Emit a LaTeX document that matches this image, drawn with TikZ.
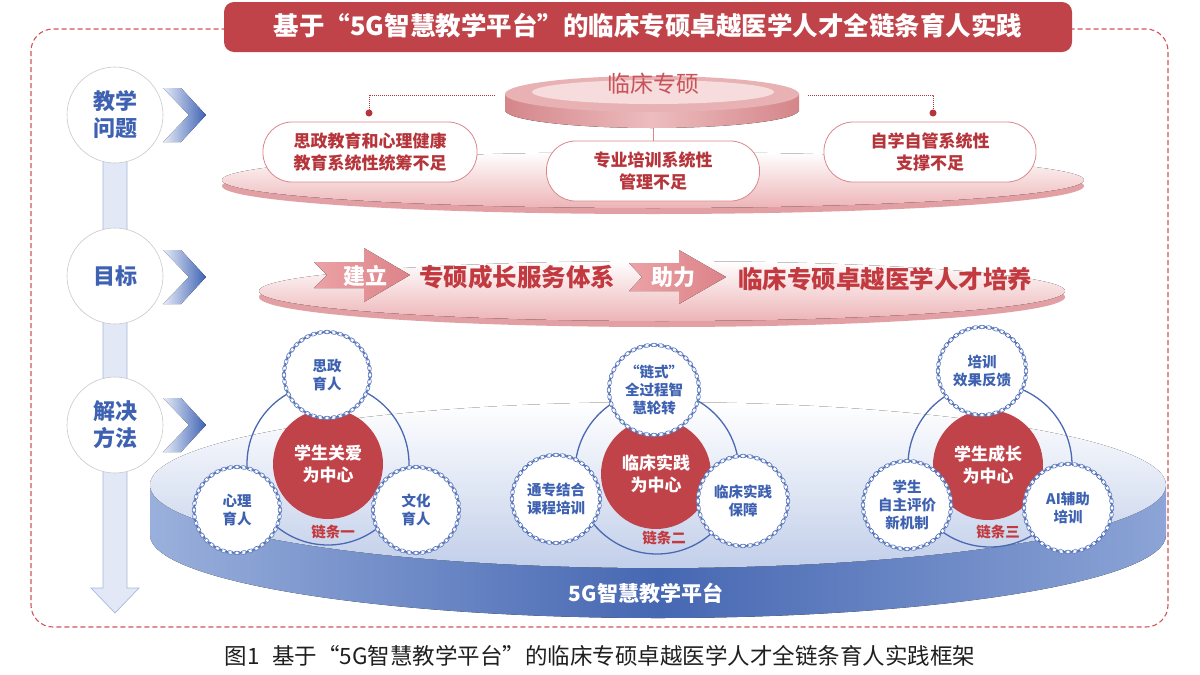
\documentclass[tikz,border=0pt]{standalone}
\usepackage{fontspec}
\setmainfont{Noto Sans CJK SC}
\usetikzlibrary{shapes.geometric,calc}
\definecolor{redmain}{HTML}{C0434A}
\definecolor{dred}{HTML}{B5353B}
\definecolor{goalred}{HTML}{C2393F}
\definecolor{pinkline}{HTML}{D9878C}
\definecolor{pinkface}{HTML}{EDB4B7}
\definecolor{pinkedge}{HTML}{E3A0A4}
\definecolor{tblue}{HTML}{3E62B1}
\definecolor{chainblue}{HTML}{5876BB}
\definecolor{ringblue}{HTML}{4A69B2}
\definecolor{barfill}{HTML}{E2E8F5}
\definecolor{barline}{HTML}{A7B8DD}
\definecolor{lgray}{HTML}{C9C9C9}
\definecolor{framered}{HTML}{D2555B}
\definecolor{arrowpinkL}{HTML}{EBA2A6}
\definecolor{arrowpinkR}{HTML}{DC8388}
\definecolor{discside}{HTML}{D4868A}
\definecolor{discsidem}{HTML}{EDBCBE}
\definecolor{discface}{HTML}{E8B1B4}
\definecolor{discinner}{HTML}{F6DCDD}
\definecolor{discword}{HTML}{C8545A}
\definecolor{bluetop}{HTML}{C2CFEA}
\definecolor{blueside}{HTML}{4667B2}
\definecolor{bluesidel}{HTML}{9AB0DC}
\definecolor{bluesider}{HTML}{8CA4D6}
\definecolor{chev}{HTML}{3F63B4}
\definecolor{chevlight}{HTML}{E6ECF8}
\newcommand\chainat[2]{%
  \foreach \a in {0,9,...,351}{\node[linkA, rotate=\a+90] at ($(#1.center)+(\a:#2pt)$) {};}%
  \foreach \a in {4.5,13.5,...,355.5}{\node[linkB, rotate=\a+90] at ($(#1.center)+(\a:#2pt)$) {};}%
}
\begin{document}
\begin{tikzpicture}[x=1pt,y=-1pt,
  every node/.style={inner sep=0pt, align=center},
  lefttag/.style={circle, minimum size=96pt, fill=white, draw=lgray, line width=0.6pt, text=tblue, font=\fontsize{22}{27}\selectfont\bfseries},
  probbox/.style={draw=pinkline, line width=0.8pt, fill=white, rounded corners=29pt, minimum height=60pt, text=dred, font=\fontsize{17}{22}\selectfont\bfseries},
  chainnode/.style={circle, minimum size=86pt, fill=white, text=tblue, font=\fontsize{14.5}{18}\selectfont\bfseries},
  hubnode/.style={circle, minimum size=110pt, fill=redmain, text=white, font=\fontsize{17}{22}\selectfont\bfseries},
  chaintext/.style={text=goalred, font=\fontsize{14.5}{18}\selectfont\bfseries},
  goaltext/.style={text=goalred, font=\fontsize{24.5}{30}\selectfont\bfseries},
  arrowtext/.style={text=white, font=\fontsize{22}{26}\selectfont\bfseries},
  dotline/.style={dred, line width=0.8pt, dash pattern=on 1pt off 1pt},
  ringline/.style={ringblue, line width=1.3pt},
  linkA/.style={ellipse, draw=chainblue, line width=0.65pt, fill=white, minimum width=6.6pt, minimum height=3.6pt, inner sep=0pt},
  linkB/.style={ellipse, fill=chainblue, minimum width=4.6pt, minimum height=1.6pt, inner sep=0pt}
]
\useasboundingbox (0,0) rectangle (1200,675);
\fill[white] (0,0) rectangle (1200,675);

% dashed frame
\draw[framered, line width=1.1pt, dash pattern=on 5pt off 3pt, rounded corners=22pt] (31,29) rectangle (1168,627);

% title
\node[fill=redmain, rounded corners=10pt, minimum width=848pt, minimum height=50pt] (title) at (648,27) {};
\node[text=white, font=\fontsize{25.5}{30}\selectfont\bfseries] (titletext) at (648,26) {基于“5G智慧教学平台”的临床专硕卓越医学人才全链条育人实践};

% left timeline bar with arrow
\filldraw[fill=barfill, draw=barline, line width=0.7pt] (103,115) -- (103,588) -- (91,588) -- (115,613) -- (139,588) -- (127,588) -- (127,115) -- cycle;
\node[lefttag] (q1) at (115,115) {教学\\问题};
\node[lefttag] (q2) at (115,276) {目标};
\node[lefttag] (q3) at (115,425) {解决\\方法};

% chevrons
\foreach \yy in {115,277,425}{
  \fill[left color=chevlight, right color=chev] (163,\yy-27) -- (181,\yy-27) -- (206,\yy) -- (181,\yy+27) -- (163,\yy+27) -- (189,\yy) -- cycle;
}

% pink platform (problems)
\fill[pinkedge] (653,186) ellipse [x radius=431, y radius=28];
\fill[top color=white, bottom color=pinkface] (653,180) ellipse [x radius=431, y radius=28];

% disc 临床专硕
\fill[left color=discside, right color=discside, middle color=discsidem] (652,110) ellipse [x radius=147, y radius=18];
\fill[left color=discside, right color=discside, middle color=discsidem] (505,94) rectangle (799,110);
\fill[discface] (652,94) ellipse [x radius=147, y radius=18];
\fill[discinner] (653,92) ellipse [x radius=121, y radius=12];
\node[text=discword, font=\fontsize{23}{28}\selectfont] (disc) at (653,84) {临床专硕};

\coordinate (discL) at (495,95);
\coordinate (discR) at (808,95);
\coordinate (discB) at (653,128);
\coordinate (dL) at (369,113);
\coordinate (dR) at (933,113);

\node[probbox, minimum width=214pt] (p1) at (370,152) {思政教育和心理健康\\教育系统性统筹不足};
\node[probbox, minimum width=213pt] (p2) at (653,171) {专业培训系统性\\管理不足};
\node[probbox, minimum width=212pt] (p3) at (930,152) {自学自管系统性\\支撑不足};

\draw[dotline] (discL) -| (dL);
\draw[dotline] (discR) -| (dR);
\fill[dred] (dL) circle [radius=3.5pt];
\fill[dred] (dR) circle [radius=3.5pt];
\draw[pinkline, line width=0.7pt] (discB) -- (p2.north);

% goal platform
\fill[pinkedge] (662,297) ellipse [x radius=403, y radius=30];
\fill[top color=white, bottom color=pinkface] (662,291) ellipse [x radius=403, y radius=30];

\fill[left color=arrowpinkL, right color=arrowpinkR] (314,262) -- (364,262) -- (364,248) -- (410,275) -- (364,302) -- (364,288) -- (314,288) -- (327,275) -- cycle;
\node[arrowtext] (a1t) at (365,276) {建立};
\node[goaltext] (g1) at (517,277) {专硕成长服务体系};
\fill[left color=arrowpinkL, right color=arrowpinkR] (629,263) -- (679,263) -- (679,250) -- (726,277) -- (679,304) -- (679,291) -- (629,291) -- (642,277) -- cycle;
\node[arrowtext] (a2t) at (673,277) {助力};
\node[goaltext] (g2) at (885,279) {临床专硕卓越医学人才培养};

% blue platform
\fill[left color=bluesidel, right color=bluesider, middle color=blueside] (658,535) ellipse [x radius=508, y radius=83];
\fill[left color=bluesidel, right color=bluesider, middle color=blueside] (150,485) rectangle (1166,535);
\fill[top color=white, bottom color=bluetop] (658,485) ellipse [x radius=508, y radius=83];
\node[text=white, font=\fontsize{21}{26}\selectfont\bfseries] (plat) at (646,593) {5G智慧教学平台};

% group 1
\draw[ringline] (328,464) circle [radius=81pt];
\node[hubnode] (h1) at (328,464) {学生关爱\\为中心};
\node[chainnode] (c11) at (327,375) {思政\\育人};
\chainat{c11}{43}
\node[chainnode] (c12) at (237,510) {心理\\育人};
\chainat{c12}{43}
\node[chainnode] (c13) at (416,510) {文化\\育人};
\chainat{c13}{43}
\node[chaintext] (l1) at (333,532) {链条一};

% group 2
\draw[ringline] (657,472) circle [radius=82pt];
\node[hubnode] (h2) at (656,474) {临床实践\\为中心};
\node[chainnode, minimum size=90pt] (c21) at (654,390) {“链式”\\全过程智\\慧轮转};
\chainat{c21}{45}
\node[chainnode] (c22) at (556,499) {通专结合\\课程培训};
\chainat{c22}{44}
\node[chainnode, minimum size=90pt] (c23) at (743,501) {临床实践\\保障};
\chainat{c23}{45}
\node[chaintext] (l2) at (664,538) {链条二};

% group 3
\draw[ringline] (990,465) circle [radius=82pt];
\node[hubnode] (h3) at (988,465) {学生成长\\为中心};
\node[chainnode] (c31) at (982,371) {培训\\效果反馈};
\chainat{c31}{44}
\node[chainnode] (c32) at (907,505) {学生\\自主评价\\新机制};
\chainat{c32}{44}
\node[chainnode] (c33) at (1068,508) {AI辅助\\培训};
\chainat{c33}{44}
\node[chaintext] (l3) at (998,532) {链条三};

% caption
\node[text=black!88, font=\fontsize{22.5}{27}\selectfont] (cap) at (600,656) {图1\hspace{0.55em}基于“5G智慧教学平台”的临床专硕卓越医学人才全链条育人实践框架};
\end{tikzpicture}
\end{document}
